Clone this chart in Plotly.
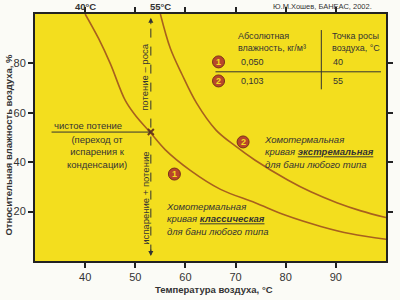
import plotly.graph_objects as go

# ---- data ----
curve1_T = [40, 42.7, 45, 48, 50, 53, 56, 60.9, 67, 73.9, 80, 87, 93, 100]
curve1_RH = [100, 90, 80, 65, 59, 52, 45, 36.8, 29, 23.6, 18.5, 14, 11, 8.8]
curve2_T = [55, 57, 59.3, 62.2, 66.1, 70, 73.9, 80.4, 85, 90.2, 95, 100]
curve2_RH = [100, 86, 75.6, 64, 53, 46.5, 40.8, 32.8, 28, 23.6, 20.3, 17.6]
cross_T = [53.1]
cross_RH = [52.2]
x_ticks = [40, 50, 60, 70, 80, 90]
y_ticks = [20, 40, 60, 80]
abs_hum = ["0,050", "0,103"]
dew_pts = ["40", "55"]

YELLOW = "#F3DE1E"
CURVE = "#A8601E"
TXT = "#333333"
BADGE = "#B8472A"
FONT = "Liberation Sans, Arial, sans-serif"

fig = go.Figure()
fig.add_trace(go.Scatter(x=curve1_T, y=curve1_RH, mode="lines", line=dict(color=CURVE, width=1.6, shape="spline"),
                         hoverinfo="skip", showlegend=False))
fig.add_trace(go.Scatter(x=curve2_T, y=curve2_RH, mode="lines", line=dict(color=CURVE, width=1.6, shape="spline"),
                         hoverinfo="skip", showlegend=False))
fig.add_trace(go.Scatter(x=cross_T, y=cross_RH, mode="markers",
                         marker=dict(symbol="x-thin", size=6, line=dict(color="#6B3A1A", width=2)),
                         hoverinfo="skip", showlegend=False))

shapes = []
ann = []
# dashed vertical line at 53 C
shapes.append(dict(type="line", xref="x", yref="y", x0=53.1, x1=53.1, y0=3, y1=97.5,
                   line=dict(color=TXT, width=1, dash="dash")))
ann.append(dict(x=53.1, y=98.5, ax=0, ay=8, text="", showarrow=True, arrowhead=2, arrowsize=1,
                arrowwidth=1, arrowcolor=TXT, xref="x", yref="y"))
ann.append(dict(x=53.1, y=2.0, ax=0, ay=-8, text="", showarrow=True, arrowhead=2, arrowsize=1,
                arrowwidth=1, arrowcolor=TXT, xref="x", yref="y"))
# horizontal pointer line
shapes.append(dict(type="line", xref="x", yref="y", x0=33.3, x1=53.1, y0=52.2, y1=52.2,
                   line=dict(color=TXT, width=1)))

def txt(x, y, s, size=9, xanchor="center", yanchor="middle", angle=0, italic=False, align="center", ref=("x", "y"), color=TXT):
    ann.append(dict(x=x, y=y, xref=ref[0], yref=ref[1], text=s, showarrow=False, xanchor=xanchor,
                    yanchor=yanchor, textangle=angle, align=align,
                    font=dict(family=FONT, size=size, color=color,
                              style="italic" if italic else "normal")))

txt(40.5, 54.8, "чистое потение", size=9.5)
txt(42.3, 44.2, "(переход от<br>испарения к<br>конденсации)", size=9.5)
txt(51.9, 74.5, "потение – роса", size=9.5, angle=-90)
txt(51.9, 25.5, "испарение + потение", size=9.5, angle=-90)

txt(75.2, 44.1, "Хомотермальная<br>кривая <b><u>экстремальная</u></b><br>для бани любого типа",
    size=9.5, xanchor="left", italic=True, align="left")
txt(55.8, 17.2, "Хомотермальная<br>кривая <b><u>классическая</u></b><br>для бани любого типа",
    size=9.5, xanchor="left", italic=True, align="left")

def badge(x, y, label):
    shapes.append(dict(type="circle", xref="x", yref="y", xsizemode="pixel", ysizemode="pixel",
                       xanchor=x, yanchor=y, x0=-6, x1=6, y0=-6, y1=6,
                       fillcolor=BADGE, line=dict(color="#7A2E1A", width=1)))
    txt(x, y, "<b>" + label + "</b>", size=9, color="#F3DE1E")

badge(71.5, 48.2, "2")
badge(57.8, 35.2, "1")

# table
txt(70.1, 88.7, "Абсолютная<br>влажность, кг/м³", size=9, xanchor="left", align="left")
txt(88.9, 88.7, "Точка росы<br>воздуха, °С", size=9, xanchor="left", align="left")
shapes.append(dict(type="line", xref="x", yref="y", x0=87.1, x1=87.1, y0=69.5, y1=93.5,
                   line=dict(color=TXT, width=1)))
shapes.append(dict(type="line", xref="x", yref="y", x0=66.0, x1=99.0, y0=76.6, y1=76.6,
                   line=dict(color=TXT, width=1)))
row_y = [80.6, 72.9]
for i in range(2):
    badge(66.6, row_y[i], str(i + 1))
    txt(70.7, row_y[i], abs_hum[i], size=9, xanchor="left")
    txt(89.1, row_y[i], dew_pts[i], size=9, xanchor="left")

# top labels and credit
txt(40, 1.0, "<b>40°C</b>", size=9.5, yanchor="bottom", ref=("x", "paper"))
txt(55, 1.0, "<b>55°C</b>", size=9.5, yanchor="bottom", ref=("x", "paper"))
txt(0.965, 1.005, "Ю.М.Хошев, БАНЕАС, 2002.", size=7.5, xanchor="right", yanchor="bottom",
    ref=("paper", "paper"))

# axis titles
txt(-0.075, 0.47, "<b>Относительная влажность воздуха, %</b>", size=9.5, angle=-90, ref=("paper", "paper"))
txt(0.51, -0.117, "<b>Температура воздуха, °C</b>", size=9.5, yanchor="middle", ref=("paper", "paper"))

axis_common = dict(showline=True, linecolor="#222", linewidth=2, mirror="ticks", ticks="outside",
                   ticklen=5, tickwidth=1.5, tickcolor="#222", showgrid=False, zeroline=False,
                   tickfont=dict(family=FONT, size=11, color=TXT))

fig.update_layout(
    width=400, height=300,
    margin=dict(l=35, r=7, t=14, b=39),
    paper_bgcolor="#FBFBF6",
    plot_bgcolor=YELLOW,
    xaxis=dict(range=[30, 100], tickvals=x_ticks, ticktext=[str(v) for v in x_ticks], **axis_common),
    yaxis=dict(range=[0, 100], tickvals=y_ticks, ticktext=[str(v) for v in y_ticks], **axis_common),
    shapes=shapes, annotations=ann, showlegend=False,
)
fig.write_html("out.html")
